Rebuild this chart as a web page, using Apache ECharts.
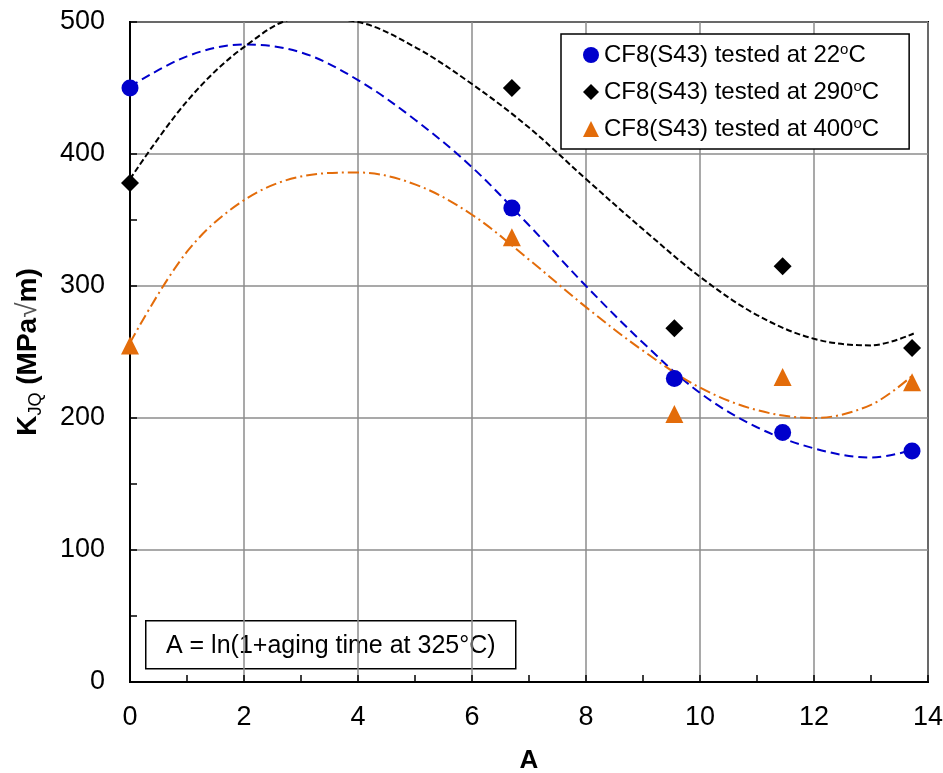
<!DOCTYPE html>
<html>
<head>
<meta charset="utf-8">
<script src="https://cdn.jsdelivr.net/npm/echarts@6/dist/echarts.min.js"></script>
<style>html,body{margin:0;padding:0;background:#fff;}#c{width:943px;height:773px;}</style>
</head>
<body>
<div id="c"></div>
<script>
// ---- data ----
const agingA = [0, 6.7, 9.55, 11.45, 13.72];
const kjq22 = [450, 359, 230, 189, 175];
const kjq290 = [378, 450, 268, 315, 253];
const kjq400 = [255, 337, 203, 231, 227];
// trend curves at these A values
const fitA = [0, 1, 2, 3, 4, 5, 6, 7, 8, 9, 10, 11, 12, 13, 13.75];
const fit22 = [451, 474, 483, 477, 456, 426, 390, 346, 300, 257, 219, 193, 177, 170, 176];
const fit290 = [381, 440, 481, 503, 500, 481, 453, 420, 381, 343, 307, 278, 260, 255, 264];
const fit400 = [257, 326, 365, 383, 386, 377, 354, 320, 284, 251, 223, 206, 200, 210, 233];
const seriesTemps = ['22', '290', '400'];
const xTicks = [0, 2, 4, 6, 8, 10, 12, 14];
const yTicks = [0, 100, 200, 300, 400, 500];

const font = 'Liberation Sans, Arial, sans-serif';
const colors = ['#0000CC', '#000000', '#E36C0A'];
const symbols = ['circle', 'diamond', 'triangle'];
const symSizes = [17, 18, 18];
const names = seriesTemps.map(t => 'CF8(S43) tested at ' + t + 'oC');
const pts = [kjq22, kjq290, kjq400];
const fits = [fit22, fit290, fit400];
const dashes = [[9, 5], [6, 3], [11, 4, 2, 4]];

const series = [];
for (let i = 0; i < 3; i++) {
  series.push({
    type: 'line', name: 'fit' + i, data: fitA.map((a, j) => [a, fits[i][j]]),
    smooth: 0.35, showSymbol: false, symbol: 'none', silent: true, clip: true,
    lineStyle: { color: colors[i], width: 2, type: dashes[i] }, z: 2
  });
}
for (let i = 0; i < 3; i++) {
  series.push({
    type: 'scatter', name: names[i], data: agingA.map((a, j) => [a, pts[i][j]]),
    symbol: symbols[i], symbolSize: symSizes[i],
    itemStyle: { color: colors[i], opacity: 1 }, z: 5
  });
}

const chart = echarts.init(document.getElementById('c'), null, { renderer: 'canvas' });
chart.setOption({
  animation: false,
  backgroundColor: '#fff',
  textStyle: { fontFamily: font, color: '#000' },
  grid: { left: 130, right: 15, top: 22, bottom: 91, containLabel: false, outerBoundsMode: 'none', show: true, borderColor: '#000', borderWidth: 2, backgroundColor: 'transparent' },
  xAxis: {
    type: 'value', min: xTicks[0], max: xTicks[xTicks.length - 1], interval: 2,
    name: 'A', nameLocation: 'middle', nameGap: 66,
    nameTextStyle: { fontFamily: font, fontSize: 26, fontWeight: 'bold', color: '#000' },
    axisLine: { show: true, onZero: false, lineStyle: { color: '#000', width: 2 } },
    axisTick: { show: true, inside: true, length: 7, lineStyle: { color: '#000', width: 1.5 } },
    minorTick: { show: true, splitNumber: 2, length: 7, lineStyle: { color: '#000', width: 1.5 } },
    axisLabel: { fontFamily: font, fontSize: 27, color: '#000', margin: 22 },
    splitLine: { show: true, lineStyle: { color: '#8c8c8c', width: 1.5 } }
  },
  yAxis: {
    type: 'value', min: yTicks[0], max: yTicks[yTicks.length - 1], interval: 100,
    axisLine: { show: true, onZero: false, lineStyle: { color: '#000', width: 2 } },
    axisTick: { show: true, inside: true, length: 7, lineStyle: { color: '#000', width: 1.5 } },
    minorTick: { show: true, splitNumber: 2, length: 7, lineStyle: { color: '#000', width: 1.5 } },
    axisLabel: { fontFamily: font, fontSize: 27, color: '#000', margin: 25 },
    splitLine: { show: true, lineStyle: { color: '#8c8c8c', width: 1.5 } }
  },
  legend: {
    data: names.map((n, i) => ({ name: n, icon: symbols[i] })),
    orient: 'vertical', left: 561, top: 34,
    backgroundColor: '#fff', borderColor: '#000', borderWidth: 1.5,
    padding: [8, 30, 8, 22], itemGap: 12, itemWidth: 16, itemHeight: 16,
    selectedMode: false,
    formatter: function (n) {
      const m = n.match(/^(.*)oC$/);
      return '{t|' + m[1] + '}{s|o}{t|C}';
    },
    textStyle: {
      fontFamily: font, color: '#000', fontSize: 24,
      rich: {
        t: { fontFamily: font, fontSize: 24, color: '#000', lineHeight: 26 },
        s: { fontFamily: font, fontSize: 15, color: '#000', verticalAlign: 'top', lineHeight: 26, padding: [0, 0, 8, 0] }
      }
    }
  },
  graphic: [
    {
      type: 'text', x: 28, y: 352, rotation: Math.PI / 2, z: 10,
      style: {
        text: '{b|K}{s|JQ}{b| (MPa}{r|√}{b|m)}',
        align: 'center', verticalAlign: 'middle',
        rich: {
          b: { fontFamily: font, fontSize: 28, fontWeight: 'bold', fill: '#000', lineHeight: 34 },
          s: { fontFamily: font, fontSize: 18, fontWeight: 'normal', fill: '#000', verticalAlign: 'bottom', lineHeight: 34, padding: [12, 0, 0, 0] },
          r: { fontFamily: font, fontSize: 28, fontWeight: 'normal', fill: '#555', lineHeight: 34 }
        }
      }
    },
    {
      type: 'group', left: 145, top: 620, z: 10,
      children: [
        { type: 'rect', shape: { x: 0, y: 0, width: 370, height: 48 }, style: { fill: '#fff', stroke: '#000', lineWidth: 1.5 } },
        { type: 'text', x: 185, y: 25, style: { text: 'A = ln(1+aging time at 325°C)', fontFamily: font, fontSize: 25, fill: '#000', align: 'center', verticalAlign: 'middle' } }
      ]
    }
  ],
  series: series
});
</script>
</body>
</html>
